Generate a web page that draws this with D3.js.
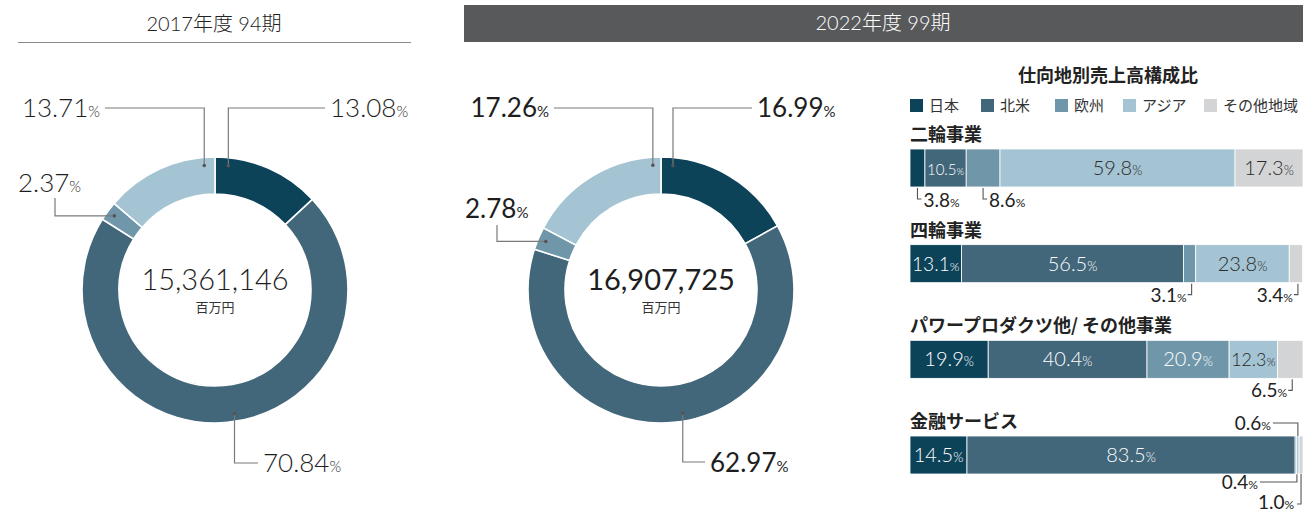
<!DOCTYPE html>
<html>
<head>
<meta charset="utf-8">
<script src="https://cdn.jsdelivr.net/npm/d3@7"></script>
<style>
  body { margin: 0; background: #fff; }
  svg { display: block; font-family: Lato, "Noto Sans CJK JP", sans-serif; }
  .jp { font-family: "Noto Sans CJK JP", sans-serif; }
</style>
</head>
<body>
<div id="chart"></div>
<script>
// regions and colours
const regions = ["日本", "北米", "欧州", "アジア", "その他地域"];
const regionColors = ["#0c4359", "#42667a", "#7097a9", "#a4c3d3", "#d3d4d5"];

// donut data (share of sales by region, %)
const share2017 = [13.08, 70.84, 2.37, 13.71];
const share2022 = [16.99, 62.97, 2.78, 17.26];
const total2017 = "15,361,146";
const total2022 = "16,907,725";

// business segments (share by region, %)
const businesses = ["二輪事業", "四輪事業", "パワープロダクツ他/ その他事業", "金融サービス"];
const twoWheel = [3.8, 10.5, 8.6, 59.8, 17.3];
const fourWheel = [13.1, 56.5, 3.1, 23.8, 3.4];
const powerProducts = [19.9, 40.4, 20.9, 12.3, 6.5];
const financial = [14.5, 83.5, 0.4, 0.6, 1.0];

const width = 1307, height = 513;
const svg = d3.select("#chart").append("svg")
    .attr("width", width)
    .attr("height", height);

//Headers
svg.append("text")
    .attr("x", 214).attr("y", 31)
    .attr("text-anchor", "middle")
    .attr("font-size", 20).attr("font-weight", 300).attr("fill", "#222")
    .text("2017年度 94期");
svg.append("line")
    .attr("x1", 18).attr("x2", 411).attr("y1", 42.5).attr("y2", 42.5)
    .attr("stroke", "#8a8a8a").attr("stroke-width", 1.2);
svg.append("rect")
    .attr("x", 464).attr("y", 5).attr("width", 839).attr("height", 37)
    .attr("fill", "#58595b");
svg.append("text")
    .attr("x", 883).attr("y", 30)
    .attr("text-anchor", "middle")
    .attr("font-size", 20).attr("font-weight", 300).attr("fill", "#fff")
    .text("2022年度 99期");

function pctText(sel, value, bigSize, smallSize) {
    sel.append("tspan").attr("class", "num").attr("font-size", bigSize).text(value);
    sel.append("tspan").attr("class", "pct").attr("font-size", smallSize).text("%");
}

//Donut
function drawDonut(cx, cy, values, total, weight, labels) {
    const g = svg.append("g").attr("transform", `translate(${cx},${cy})`);
    const pie = d3.pie().sort(null).value(d => d);
    const arc = d3.arc().innerRadius(96).outerRadius(133);
    const arcs = pie(values);

    g.selectAll("path.slice")
        .data(arcs)
        .enter().append("path")
        .attr("class", "slice")
        .attr("d", arc)
        .attr("fill", (d, i) => regionColors[i])
        .attr("stroke", "#fff")
        .attr("stroke-width", 1.6);

    arcs.forEach((d, i) => {
        const lab = labels[i];
        const a = d.startAngle + (d.endAngle - d.startAngle) * lab.frac;
        const ax = 125 * Math.sin(a);
        const ay = -125 * Math.cos(a);
        let path;
        if (lab.mode === "side") {
            path = `M${ax},${ay}H${lab.elbowX - cx}V${lab.topY - cy}`;
        } else {
            path = `M${ax},${ay}V${lab.lineY - cy}H${lab.lineEnd - cx}`;
        }
        g.append("path")
            .attr("d", path)
            .attr("fill", "none")
            .attr("stroke", "#7a7a7a")
            .attr("stroke-width", 1.2);
        g.append("circle")
            .attr("cx", ax).attr("cy", ay).attr("r", 1.8)
            .attr("fill", "#555");
        const t = g.append("text")
            .attr("x", lab.textX - cx).attr("y", lab.baseline - cy)
            .attr("text-anchor", lab.anchor)
            .attr("fill", "#1e1e1e")
            .attr("font-weight", weight);
        pctText(t, d.data.toFixed(2), 26, 15);
    });

    g.append("text")
        .attr("y", 0)
        .attr("text-anchor", "middle")
        .attr("font-size", 29).attr("font-weight", weight)
        .attr("fill", "#1e1e1e")
        .text(total);
    g.append("text")
        .attr("class", "jp")
        .attr("y", 22)
        .attr("text-anchor", "middle")
        .attr("font-size", 13).attr("fill", "#333")
        .text("百万円");
}

drawDonut(215, 290, share2017, total2017, 300, [
    { frac: 0.13, mode: "up", lineY: 108, lineEnd: 325, textX: 330, baseline: 117, anchor: "start" },
    { frac: 0.486, mode: "down", lineY: 463, lineEnd: 258, textX: 263, baseline: 472, anchor: "start" },
    { frac: 0.5, mode: "side", elbowX: 55, topY: 198, textX: 18, baseline: 192, anchor: "start" },
    { frac: 0.9, mode: "up", lineY: 108, lineEnd: 105, textX: 100, baseline: 117, anchor: "end" }
]);
drawDonut(661, 290, share2022, total2022, 400, [
    { frac: 0.09, mode: "up", lineY: 108, lineEnd: 752, textX: 757, baseline: 117, anchor: "start" },
    { frac: 0.48, mode: "down", lineY: 462, lineEnd: 705, textX: 710, baseline: 472, anchor: "start" },
    { frac: 0.5, mode: "side", elbowX: 497, topY: 225, textX: 465, baseline: 218, anchor: "start" },
    { frac: 0.94, mode: "up", lineY: 108, lineEnd: 554, textX: 549, baseline: 117, anchor: "end" }
]);

//Right panel: stacked bars
svg.append("text")
    .attr("class", "jp")
    .attr("x", 1108).attr("y", 82)
    .attr("text-anchor", "middle")
    .attr("font-size", 18).attr("font-weight", 700).attr("fill", "#222")
    .text("仕向地別売上高構成比");

const legendX = [910, 981, 1055, 1123, 1204];
const legend = svg.append("g").attr("class", "legend");
regions.forEach((r, i) => {
    legend.append("rect")
        .attr("x", legendX[i]).attr("y", 99)
        .attr("width", 13).attr("height", 13)
        .attr("fill", regionColors[i]);
    legend.append("text")
        .attr("class", "jp")
        .attr("x", legendX[i] + 19).attr("y", 111)
        .attr("font-size", 15).attr("fill", "#333")
        .text(r);
});

const x = d3.scaleLinear().domain([0, 100]).range([910, 1303]);
const y = d3.scaleBand().domain(businesses).range([149, 474]).paddingInner(0.603);

const barData = [twoWheel, fourWheel, powerProducts, financial];
//how each small value is called out outside the bar
const calloutModes = [
    ["below-left", null, "below-left", null, null],
    [null, null, "below-right", null, "below-right"],
    [null, null, null, null, "below-right"],
    [null, null, "below-line", "above-line", "below-far"]
];

businesses.forEach((b, bi) => {
    const top = y(b);
    const bottom = top + y.bandwidth();
    const vals = barData[bi];
    const stacked = d3.cumsum(vals);

    svg.append("text")
        .attr("class", "jp")
        .attr("x", 910).attr("y", top - 8)
        .attr("font-size", 18).attr("font-weight", 700).attr("fill", "#222")
        .text(b);

    const g = svg.append("g");
    vals.forEach((v, i) => {
        const x0 = x(stacked[i] - v);
        const x1 = x(stacked[i]);
        const cx = (x0 + x1) / 2;
        g.append("rect")
            .attr("x", x0).attr("y", top)
            .attr("width", x1 - x0).attr("height", y.bandwidth())
            .attr("fill", regionColors[i])
            .attr("stroke", "#fff").attr("stroke-width", 0.8);

        const mode = calloutModes[bi][i];
        const label = v.toFixed(1);
        if (!mode) {
            const t = g.append("text")
                .attr("x", cx).attr("y", top + y.bandwidth() / 2 + 7)
                .attr("text-anchor", "middle")
                .attr("font-weight", 300)
                .attr("fill", i < 3 ? "#fff" : "#2a2a2a");
            pctText(t, label, 20, 13);
            //shrink the label when the segment is too narrow
            const len = t.node().getComputedTextLength();
            const room = x1 - x0 - 4;
            if (len > room) {
                const k = room / len;
                t.select(".num").attr("font-size", 20 * k);
                t.select(".pct").attr("font-size", 13 * k);
            }
            return;
        }
        let path, tx, ty, anchor;
        if (mode === "below-left") {
            path = `M${cx},${bottom + 1}V${bottom + 12}H${cx + 4}`;
            tx = cx + 6; ty = bottom + 20; anchor = "start";
        } else if (mode === "below-right") {
            path = `M${cx + 2},${bottom + 1}V${bottom + 12}H${cx - 2}`;
            tx = cx - 3; ty = bottom + 19; anchor = "end";
        } else if (mode === "above-line") {
            path = `M${cx - 25},${top - 13}H${cx}V${top}`;
            tx = cx - 27; ty = top - 6; anchor = "end";
        } else if (mode === "below-line") {
            path = `M${cx - 36},${bottom + 8}H${cx + 1}V${bottom}`;
            tx = cx - 38; ty = bottom + 15; anchor = "end";
        } else {
            path = `M${cx},${bottom}V${bottom + 30}H${cx - 4}`;
            tx = cx - 7; ty = bottom + 35; anchor = "end";
        }
        g.append("path")
            .attr("d", path)
            .attr("fill", "none")
            .attr("stroke", "#555")
            .attr("stroke-width", 1.1);
        const t = g.append("text")
            .attr("x", tx).attr("y", ty)
            .attr("text-anchor", anchor)
            .attr("fill", "#222");
        pctText(t, label, 19, 12);
    });
});
</script>
</body>
</html>
